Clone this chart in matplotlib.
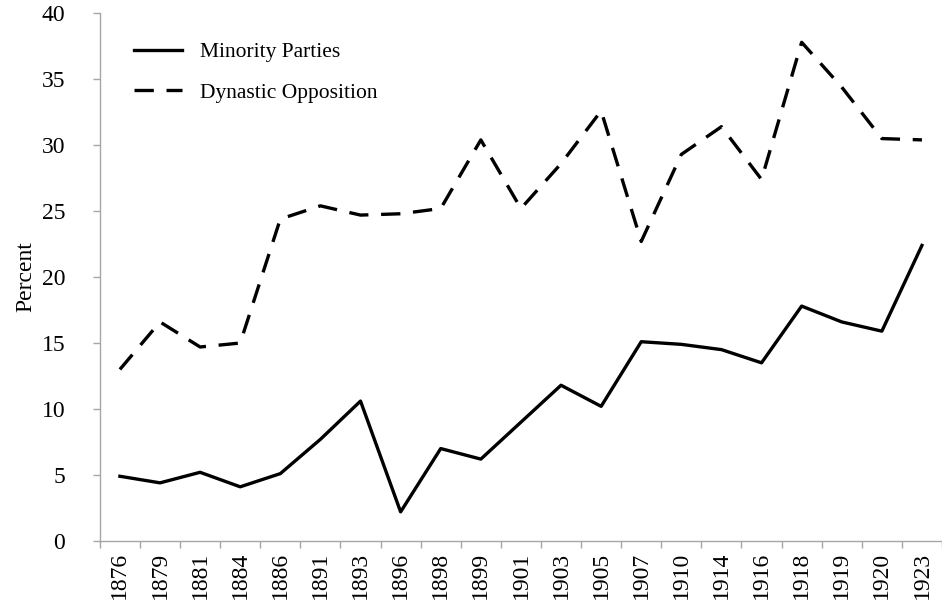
import numpy as np
import matplotlib.pyplot as plt

plt.rcParams['font.family'] = ['Liberation Serif', 'DejaVu Serif']

years = ['1876', '1879', '1881', '1884', '1886', '1891', '1893', '1896', '1898', '1899',
         '1901', '1903', '1905', '1907', '1910', '1914', '1916', '1918', '1919', '1920', '1923']
minority = [4.9, 4.4, 5.2, 4.1, 5.1, 7.7, 10.6, 2.2, 7.0, 6.2,
            9.0, 11.8, 10.2, 15.1, 14.9, 14.5, 13.5, 17.8, 16.6, 15.9, 22.4]
dynastic = [13.0, 16.6, 14.7, 15.0, 24.4, 25.4, 24.7, 24.8, 25.2, 30.4,
            25.2, 28.6, 32.6, 22.7, 29.3, 31.4, 27.4, 37.8, 34.4, 30.5, 30.4]

fig = plt.figure(figsize=(9.42, 6.03), dpi=100)
ax = fig.add_axes([0.106, 0.103, 0.894, 0.875])

x = np.arange(len(years))
ax.plot(x, minority, color='black', linewidth=2.4, label='Minority Parties')
ax.plot(x, dynastic, color='black', linewidth=2.4, dashes=(5.8, 3.8), label='Dynastic Opposition')

ax.set_xlim(-0.5, len(years) - 0.5)
ax.set_ylim(0, 40)
ax.set_yticks(range(0, 41, 5))
ax.set_xticks(x)
ax.set_xticklabels(years, rotation=90)
ax.set_xticks(np.arange(-0.5, len(years), 1), minor=True)
ax.tick_params(axis='x', which='major', length=0, pad=8, labelsize=17)
ax.tick_params(axis='x', which='minor', length=5, color='#a6a6a6', width=1)
ax.tick_params(axis='y', length=5, color='#a6a6a6', width=1, pad=20, labelsize=17)

for s in ['top', 'right']:
    ax.spines[s].set_visible(False)
for s in ['left', 'bottom']:
    ax.spines[s].set_color('#a6a6a6')
    ax.spines[s].set_linewidth(1)

ax.set_ylabel('Percent', fontsize=17, labelpad=4)

ax.legend(loc='upper left', bbox_to_anchor=(0.018, 0.982), frameon=False, fontsize=15.5,
          handlelength=2.2, handletextpad=0.85, labelspacing=0.95)

fig.savefig('out.png', dpi=100)
